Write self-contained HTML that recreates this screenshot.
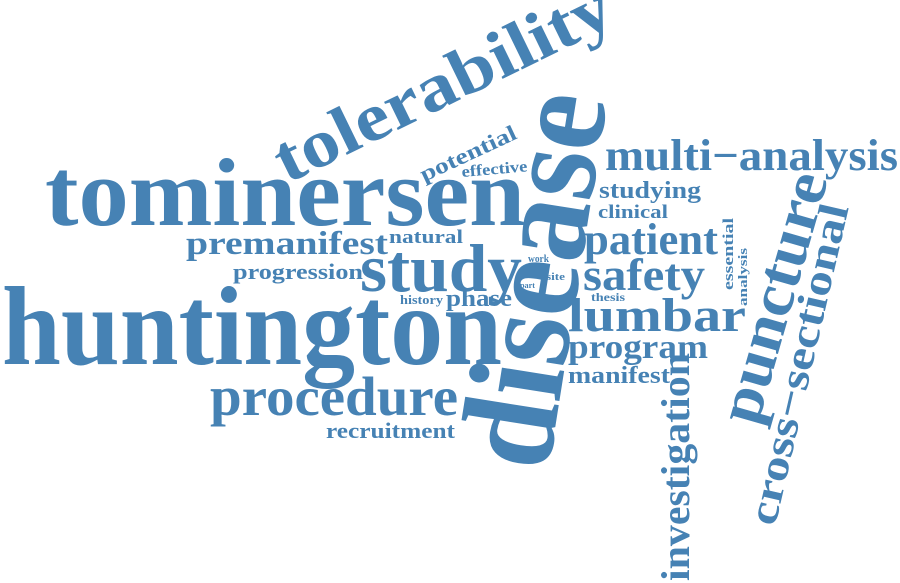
<!DOCTYPE html>
<html><head><meta charset="utf-8">
<style>
html,body{margin:0;padding:0;background:#fff;}
svg{display:block;}
text{font-family:"Liberation Serif","Times New Roman",Times,serif;font-weight:700;fill:#4682b4;}
</style></head>
<body>
<svg width="900" height="583" viewBox="0 0 900 583" font-family="Liberation Serif">
<text x="2" y="364" font-size="112" textLength="500" lengthAdjust="spacingAndGlyphs">huntington</text>
<text x="45" y="225" font-size="96" textLength="480" lengthAdjust="spacingAndGlyphs">tominersen</text>
<text transform="translate(287,184) rotate(-26)" font-size="68" textLength="368" lengthAdjust="spacingAndGlyphs">tolerability</text>
<text transform="translate(548,473) rotate(-81)" font-size="135" textLength="378" lengthAdjust="spacingAndGlyphs">disease</text>
<text x="605" y="170" font-size="44" textLength="293" lengthAdjust="spacingAndGlyphs">multi−analysis</text>
<text transform="translate(757,427) rotate(-74)" font-size="62" textLength="258" lengthAdjust="spacingAndGlyphs">puncture</text>
<text transform="translate(775,527) rotate(-77)" font-size="42" textLength="328" lengthAdjust="spacingAndGlyphs">cross−sectional</text>
<text transform="translate(689,581) rotate(-90)" font-size="40" textLength="228" lengthAdjust="spacingAndGlyphs">investigation</text>
<text x="186" y="254" font-size="33" textLength="202" lengthAdjust="spacingAndGlyphs">premanifest</text>
<text x="360" y="291" font-size="68" textLength="162" lengthAdjust="spacingAndGlyphs">study</text>
<text x="584" y="254" font-size="44" textLength="134" lengthAdjust="spacingAndGlyphs">patient</text>
<text x="583" y="290" font-size="46" textLength="122" lengthAdjust="spacingAndGlyphs">safety</text>
<text x="568" y="331" font-size="48" textLength="178" lengthAdjust="spacingAndGlyphs">lumbar</text>
<text x="568" y="358" font-size="34" textLength="140" lengthAdjust="spacingAndGlyphs">program</text>
<text x="568" y="383" font-size="24" textLength="102" lengthAdjust="spacingAndGlyphs">manifest</text>
<text x="210" y="415" font-size="55" textLength="248" lengthAdjust="spacingAndGlyphs">procedure</text>
<text x="326" y="438" font-size="22" textLength="129" lengthAdjust="spacingAndGlyphs">recruitment</text>
<text x="233" y="279" font-size="22" textLength="130" lengthAdjust="spacingAndGlyphs">progression</text>
<text x="389" y="243" font-size="19" textLength="74" lengthAdjust="spacingAndGlyphs">natural</text>
<text x="400" y="304" font-size="13" textLength="43" lengthAdjust="spacingAndGlyphs">history</text>
<text x="446" y="306" font-size="24" textLength="66" lengthAdjust="spacingAndGlyphs">phase</text>
<text transform="translate(424,182) rotate(-25)" font-size="22" textLength="104" lengthAdjust="spacingAndGlyphs">potential</text>
<text transform="translate(462,177) rotate(-5)" font-size="16" textLength="66" lengthAdjust="spacingAndGlyphs">effective</text>
<text x="599" y="198" font-size="24" textLength="102" lengthAdjust="spacingAndGlyphs">studying</text>
<text x="598" y="218" font-size="19" textLength="70" lengthAdjust="spacingAndGlyphs">clinical</text>
<text x="528" y="262" font-size="10" textLength="21" lengthAdjust="spacingAndGlyphs">work</text>
<text x="546" y="280" font-size="10" textLength="19" lengthAdjust="spacingAndGlyphs">site</text>
<text x="520" y="288" font-size="8" textLength="15" lengthAdjust="spacingAndGlyphs">part</text>
<text x="591" y="301" font-size="12" textLength="34" lengthAdjust="spacingAndGlyphs">thesis</text>
<text transform="translate(733,290) rotate(-90)" font-size="15" textLength="72" lengthAdjust="spacingAndGlyphs">essential</text>
<text transform="translate(747,306) rotate(-90)" font-size="13" textLength="58" lengthAdjust="spacingAndGlyphs">analysis</text>
</svg>
</body></html>
